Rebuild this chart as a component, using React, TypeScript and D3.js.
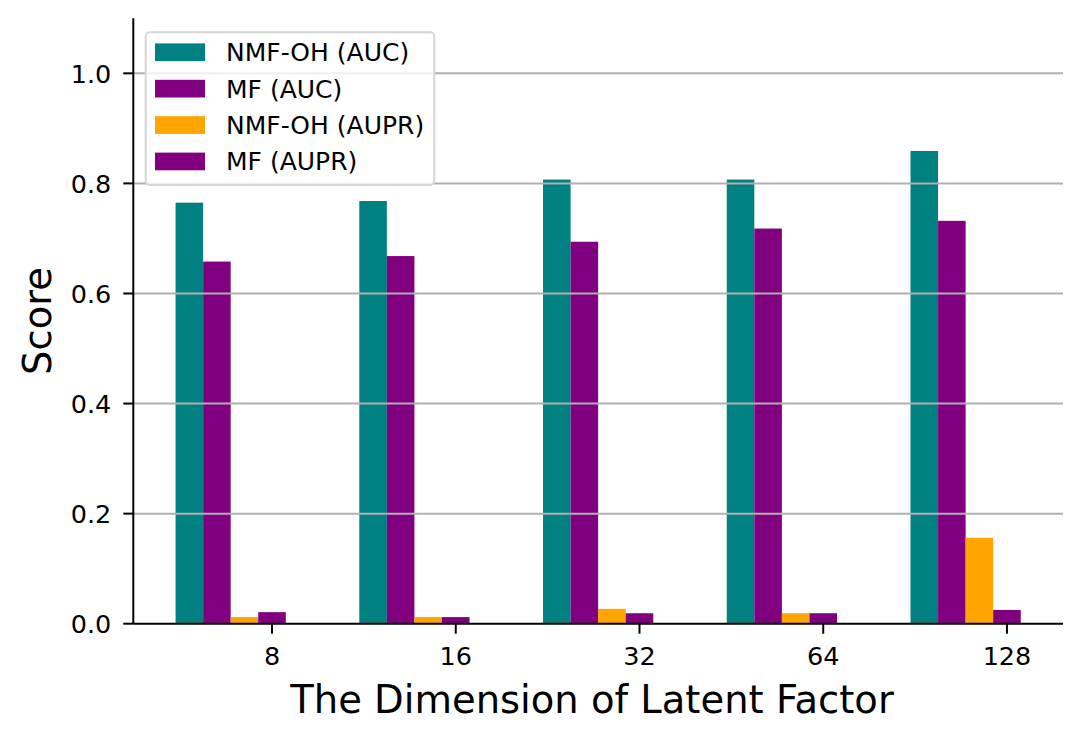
import * as React from "react";
import * as d3 from "d3";

// dimensions of the latent factor (x categories)
const categories = ["8", "16", "32", "64", "128"];

// scores
const nmfAuc = [0.765, 0.768, 0.807, 0.807, 0.859];
const mfAuc = [0.658, 0.668, 0.694, 0.718, 0.732];
const nmfAupr = [0.012, 0.012, 0.027, 0.019, 0.156];
const mfAupr = [0.021, 0.012, 0.019, 0.019, 0.025];

const seriesNames = ["NMF-OH (AUC)", "MF (AUC)", "NMF-OH (AUPR)", "MF (AUPR)"];
const seriesColors = ["#008080", "#800080", "#FFA500", "#800080"];
const yTicks = [0, 0.2, 0.4, 0.6, 0.8, 1.0];

const FONT = "DejaVu Sans, sans-serif";

const App: React.FC = () => {
  const width = 1082;
  const height = 740;
  const left = 133.3;
  const right = 1063;
  const top = 18.3;
  const bottom = 623.7;
  const barW = 0.15;

  const series = [nmfAuc, mfAuc, nmfAupr, mfAupr];

  // x in category-index units, bars placed left of each tick
  const x = d3.scaleLinear().domain([-0.755, 4.305]).range([left, right]);
  const y = d3.scaleLinear().domain([0, 1.1]).range([bottom, top]);
  const bw = x(barW) - x(0);

  const legendX = 145.7;
  const legendY = 32.3;
  const rowH = 36.4;

  return (
    <svg
      width={width}
      height={height}
      style={{ position: "absolute", left: 0, top: 0, background: "#fff" }}
      fontFamily={FONT}
    >
      <rect width={width} height={height} fill="#fff" />

      {/* bars */}
      {series.map((vals, k) => (
        <g key={k} fill={seriesColors[k]}>
          {vals.map((v, i) => (
            <rect
              key={i}
              x={x(i + (k - 3) * barW) - bw / 2}
              y={y(v)}
              width={bw}
              height={y(0) - y(v)}
            />
          ))}
        </g>
      ))}

      {/* grid (drawn above bars, like matplotlib) */}
      <g stroke="#b0b0b0" strokeWidth={2}>
        {yTicks.slice(1).map((t) => (
          <line key={t} x1={left} x2={right} y1={y(t)} y2={y(t)} />
        ))}
      </g>

      {/* y axis */}
      <line x1={left} x2={left} y1={top} y2={bottom} stroke="#000" strokeWidth={2} />
      {yTicks.map((t) => (
        <g key={t} transform={`translate(0,${y(t)})`}>
          <line x1={left - 10} x2={left} stroke="#000" strokeWidth={2} />
          <text x={left - 22} y={9.3} textAnchor="end" fontSize={25.5} fill="#000">
            {t.toFixed(1)}
          </text>
        </g>
      ))}

      {/* x axis */}
      <line x1={left} x2={right} y1={bottom} y2={bottom} stroke="#000" strokeWidth={2} />
      {categories.map((c, i) => (
        <g key={c} transform={`translate(${x(i)},${bottom})`}>
          <line y1={0} y2={10} stroke="#000" strokeWidth={2} />
          <text y={41.3} textAnchor="middle" fontSize={25.5} fill="#000">
            {c}
          </text>
        </g>
      ))}

      {/* axis labels */}
      <text x={592} y={712.5} textAnchor="middle" fontSize={38.5} fill="#000">
        The Dimension of Latent Factor
      </text>
      <text
        transform={`translate(51,${(top + bottom) / 2}) rotate(-90)`}
        textAnchor="middle"
        fontSize={38.5}
        fill="#000"
      >
        Score
      </text>

      {/* legend */}
      <g>
        <rect
          x={legendX}
          y={legendY}
          width={288.6}
          height={152.7}
          rx={4}
          fill="#fff"
          fillOpacity={0.8}
          stroke="#d6d6d6"
          strokeWidth={2}
        />
        {seriesNames.map((name, k) => {
          const cy = 52.2 + k * rowH;
          return (
            <g key={name}>
              <rect x={155} y={cy - 8.8} width={50} height={17.7} fill={seriesColors[k]} />
              <text x={226} y={cy + 9} fontSize={25} fill="#000">
                {name}
              </text>
            </g>
          );
        })}
      </g>
    </svg>
  );
};

export default App;
